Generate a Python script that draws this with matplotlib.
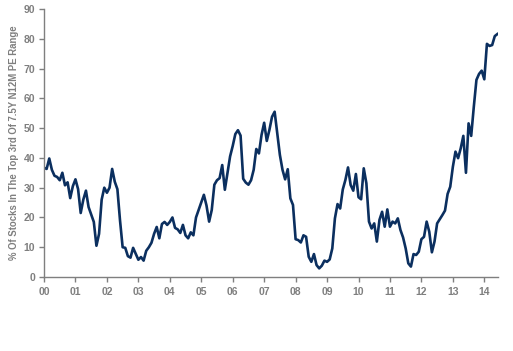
import numpy as np
import matplotlib.pyplot as plt

# monthly readings, Jan 2000 -> Jun 2014
pct_top_third = [
    36.7, 36.3, 39.8, 36.0, 34.0, 33.6, 32.5, 35.0, 30.8, 31.8, 26.5, 30.5,
    32.8, 29.5, 21.5, 26.0, 29.0, 23.5, 21.0, 18.5, 10.5, 14.5, 26.0, 30.0,
    28.3, 30.0, 36.3, 32.0, 29.5, 19.0, 10.0, 9.8, 7.0, 6.5, 9.8, 7.8,
    5.8, 6.7, 5.5, 8.8, 10.0, 11.5, 14.5, 16.8, 13.0, 17.8, 18.5, 17.5,
    18.5, 20.0, 16.5, 16.0, 14.8, 17.5, 14.0, 13.0, 15.0, 14.0, 20.0, 22.5,
    25.0, 27.6, 24.0, 18.6, 22.5, 31.0, 32.5, 33.2, 37.6, 29.3, 35.0, 40.5,
    44.0, 48.0, 49.3, 47.5, 33.0, 31.7, 31.0, 32.5, 36.0, 43.0, 41.5, 47.7,
    51.8, 45.7, 49.4, 53.8, 55.5, 48.2, 41.0, 36.0, 32.8, 36.2, 26.4, 24.2,
    12.7, 12.4, 11.6, 14.0, 13.5, 6.8, 5.1, 7.7, 4.0, 2.9, 3.8, 5.5,
    5.1, 5.9, 9.6, 19.7, 24.5, 23.0, 29.4, 32.6, 36.8, 30.9, 29.0, 34.6,
    26.8, 26.1, 36.5, 31.5, 18.6, 16.3, 18.0, 11.9, 19.2, 21.9, 16.9, 22.7,
    16.9, 18.6, 18.0, 19.7, 15.8, 13.3, 9.6, 4.6, 3.5, 7.7, 7.4, 8.5,
    12.7, 13.5, 18.6, 15.2, 8.3, 11.9, 18.0, 19.4, 20.8, 22.3, 27.9, 30.3,
    37.0, 42.1, 39.9, 43.2, 47.4, 35.0, 51.6, 47.4, 57.2, 66.2, 68.2, 69.3,
    66.4, 78.3, 77.6, 77.9, 80.9, 81.6,
]
year_labels = ["00", "01", "02", "03", "04", "05", "06", "07",
               "08", "09", "10", "11", "12", "13", "14"]
y_ticks = [0, 10, 20, 30, 40, 50, 60, 70, 80, 90]

t = np.arange(len(pct_top_third)) / 12.0

grey = "#7f7f7f"
fig = plt.figure(figsize=(5.13, 3.51), dpi=100)
ax = fig.add_axes([0.0858, 0.2108, 0.884, 0.7635])

ax.plot(t, pct_top_third, color="#0b2f5f", lw=1.9, solid_joinstyle="round")

ax.set_xlim(0, 14.42)
ax.set_ylim(0, 90)
ax.set_xticks(np.arange(len(year_labels)))
ax.set_xticklabels(year_labels)
ax.set_yticks(y_ticks)

for s in ["top", "right"]:
    ax.spines[s].set_visible(False)
for s in ["left", "bottom"]:
    ax.spines[s].set_color(grey)
    ax.spines[s].set_linewidth(1.0)

ax.tick_params(axis="both", colors=grey, length=3.5, width=1.0)
ax.tick_params(axis="x", pad=4)
ax.tick_params(axis="y", pad=3)
for lbl in ax.get_xticklabels() + ax.get_yticklabels():
    lbl.set_fontfamily("Liberation Sans")
    lbl.set_fontweight("bold")
    lbl.set_fontsize(7.5)
    lbl.set_color(grey)

ax.set_ylabel("% Of Stocks In The Top 3rd Of 7.5Y N12M PE Range",
              fontfamily="Liberation Sans", fontsize=6.9, fontweight="bold",
              color=grey, labelpad=3)

fig.savefig("out.png", dpi=100)
